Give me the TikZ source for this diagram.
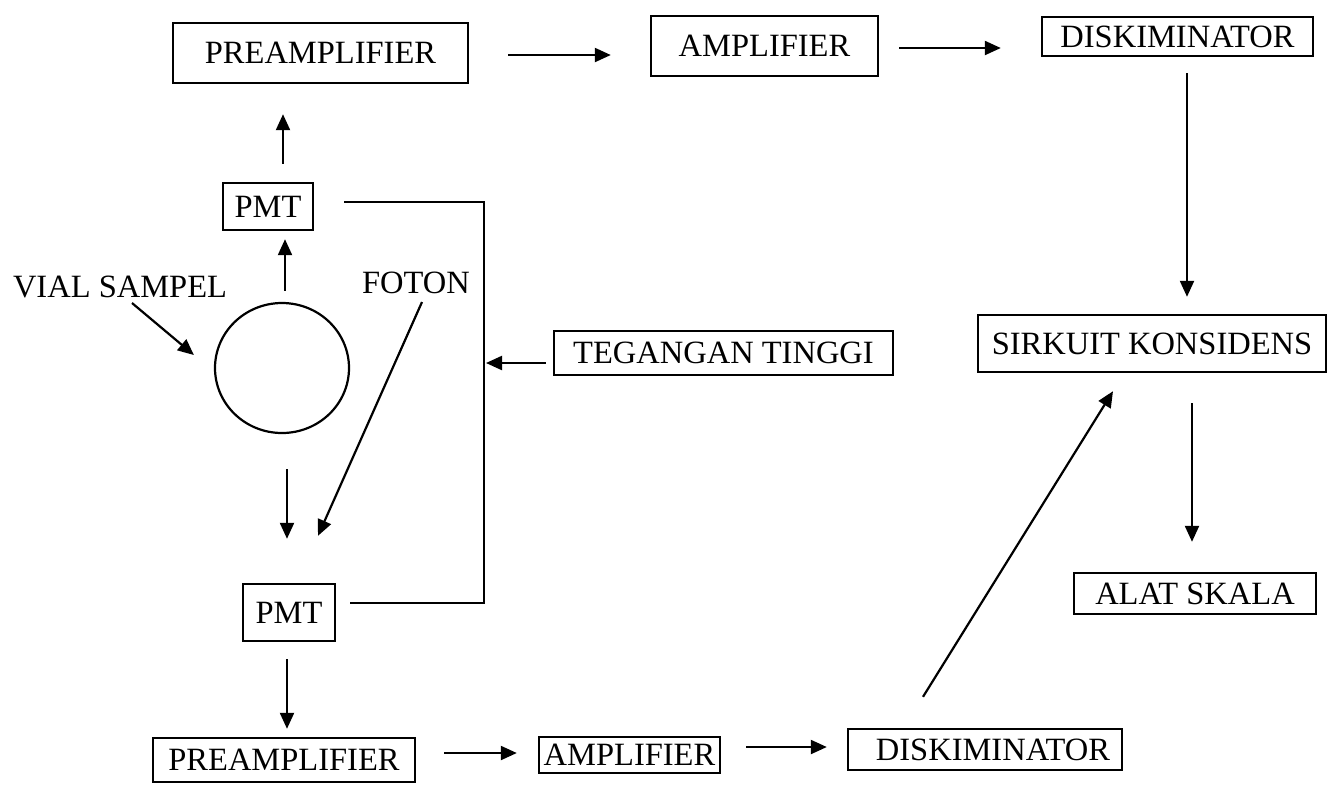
\documentclass[tikz,border=0pt]{standalone}
\usepackage{fontspec}
\setmainfont{Liberation Serif}
\usetikzlibrary{arrows.meta,calc,shapes.geometric}
\begin{document}
\begin{tikzpicture}[x=0.5pt,y=-0.5pt,
  box/.style={draw,line width=1.2pt,rectangle,inner sep=0pt,font=\fontsize{16.25}{19}\selectfont},
  lbl/.style={inner sep=0pt,font=\fontsize{16.25}{19}\selectfont},
  arr/.style={line width=1.1pt,-{Triangle[length=8pt,width=7pt]}},
  ln/.style={line width=1.1pt}]
\useasboundingbox (0,0) rectangle (1328,784);
% boxes
\node[box,minimum width=147.5pt,minimum height=30pt] (preT) at (320.5,53) {PREAMPLIFIER\hspace{12pt}};
\node[box,minimum width=113.5pt,minimum height=30pt] (ampT) at (764.5,46) {AMPLIFIER\hspace{7.5pt}};
\node[box,minimum width=135.5pt,minimum height=19.5pt] (diskT) at (1177.5,36.5) {DISKIMINATOR\hspace{9pt}};
\node[box,minimum width=45pt,minimum height=23.5pt] (pmtT) at (268,206.5) {PMT};
\node[box,minimum width=169.5pt,minimum height=22pt] (teg) at (723.5,353) {TEGANGAN TINGGI};
\node[box,minimum width=174pt,minimum height=28.5pt] (sirk) at (1152,343.5) {SIRKUIT KONSIDENS};
\node[box,minimum width=121pt,minimum height=20.5pt] (alat) at (1195,593.5) {ALAT SKALA};
\node[box,minimum width=46pt,minimum height=28.5pt] (pmtB) at (289,612.5) {PMT};
\node[box,minimum width=131pt,minimum height=22pt] (preB) at (284,760) {PREAMPLIFIER};
\node[box,minimum width=90.5pt,minimum height=18pt] (ampB) at (629.5,755) {AMPLIFIER};
\node[box,minimum width=137pt,minimum height=20.5pt] (diskB) at (985,749.5) {\hspace{8pt}DISKIMINATOR};
% vial
\node[draw,line width=1.1pt,ellipse,minimum width=67pt,minimum height=65pt,inner sep=0pt] (vial) at (282,368) {};
\node[lbl] (vlabel) at (120,287) {VIAL SAMPEL};
\node[lbl] (foton) at (416,283) {FOTON};
% connector coordinates
\coordinate (hvT) at (484,202);
\coordinate (hvB) at (484,603);
\coordinate (hvM) at (486,363);
% top row
\draw[arr] ([shift={(39,2)}]preT.east) -- ([shift={(-39,9)}]ampT.west);
\draw[arr] ([shift={(20,2)}]ampT.east) -- ([shift={(-40,11.5)}]diskT.west);
\draw[arr] ([shift={(9.5,16)}]diskT.south) -- ([shift={(35,-17)}]sirk.north);
\draw[arr] ([shift={(40,30)}]sirk.south) -- ([shift={(-3,-30)}]alat.north);
% left column
\draw[arr] ([shift={(15,-18)}]pmtT.north) -- ([shift={(-37.5,30)}]preT.south);
\draw[arr] ([shift={(3,-11)}]vial.north) -- ([shift={(17,8)}]pmtT.south);
\draw[arr] ([shift={(5,35)}]vial.south) -- ([shift={(-2,-44)}]pmtB.north);
\draw[arr] ([shift={(6,19)}]foton.center) -- ([shift={(29,-47)}]pmtB.north);
\draw[arr] ([shift={(12,16)}]vlabel.center) -- ([shift={(-20,-13)}]vial.west);
\draw[arr] ([shift={(-2,17)}]pmtB.south) -- ([shift={(3,-8)}]preB.north);
% high voltage
\draw[ln] ([shift={(30,-4.5)}]pmtT.east) -- (hvT) -- (hvB) -- ([shift={(14,-9.5)}]pmtB.east);
\draw[arr] ([shift={(-7,10)}]teg.west) -- (hvM);
% bottom row
\draw[arr] ([shift={(28,-7)}]preB.east) -- ([shift={(-21,-2)}]ampB.west);
\draw[arr] ([shift={(25,-8)}]ampB.east) -- ([shift={(-20,-2.5)}]diskB.west);
\draw[arr] ([shift={(-62,-31)}]diskB.north) -- ([shift={(-39,18)}]sirk.south);
\end{tikzpicture}
\end{document}
